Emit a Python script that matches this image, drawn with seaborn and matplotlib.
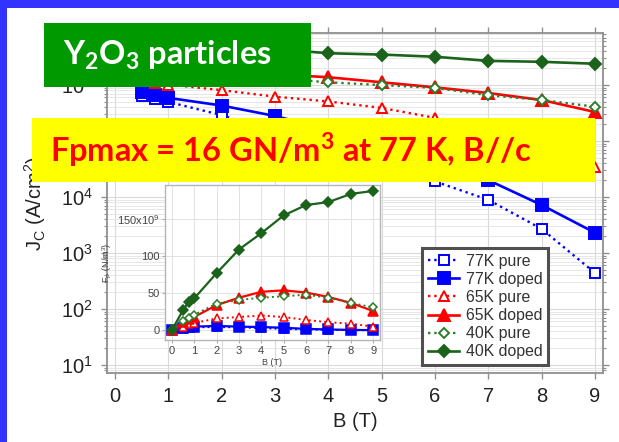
import matplotlib
matplotlib.use("Agg")
import matplotlib.pyplot as plt
from matplotlib.patches import Rectangle
from matplotlib.ticker import FixedLocator, FixedFormatter, NullFormatter, NullLocator, LogLocator
import seaborn as sns

# ---- critical current density Jc(B), A/cm^2 ----
b_field = [0.5, 0.75, 1, 2, 3, 4, 5, 6, 7, 8, 9]
jc_77k_pure = [6.3e5, 5.6e5, 5.0e5, 2.9e5, 1.4e5, 7.1e4, 3.5e4, 1.9e4, 8.9e3, 2.7e3, 4.4e2]
jc_77k_doped = [7.4e5, 6.6e5, 5.9e5, 4.3e5, 2.8e5, 1.6e5, 8.9e4, 4.5e4, 2.0e4, 7.2e3, 2.3e3]
jc_65k_pure = [1.2e6, 1.1e6, 1.02e6, 8.1e5, 6.2e5, 5.1e5, 3.9e5, 2.6e5, 1.4e5, 7.1e4, 3.4e4]
jc_65k_doped = [2.2e6, 2.1e6, 2.0e6, 1.74e6, 1.55e6, 1.38e6, 1.12e6, 9.1e5, 7.2e5, 5.4e5, 3.3e5]
jc_40k_pure = [2.0e6, 1.86e6, 1.78e6, 1.51e6, 1.32e6, 1.12e6, 1.0e6, 8.9e5, 6.6e5, 5.4e5, 4.1e5]
jc_40k_doped = [7.1e6, 6.6e6, 6.3e6, 5.2e6, 4.4e6, 3.7e6, 3.5e6, 3.2e6, 2.7e6, 2.6e6, 2.4e6]

# ---- pinning force Fp(B), 1e9 N/m^3 ----
b_field_fp = [0, 0.5, 0.75, 1, 2, 3, 4, 5, 6, 7, 8, 9]
fp_77k_pure = [0, 2.5, 3.5, 4, 4.5, 4, 3, 2, 1.2, 0.7, 0.3, 0.05]
fp_77k_doped = [0, 3, 4, 5, 6, 5, 4.5, 3.5, 2, 1.2, 0.6, 0.3]
fp_65k_pure = [0, 5, 8, 10, 16, 18, 20, 18, 14, 11, 9, 5]
fp_65k_doped = [0, 11, 15, 18, 34, 44, 52, 54, 51, 45, 37, 26]
fp_40k_pure = [0, 12, 17, 21, 36, 41, 44, 46, 48, 44, 37, 31]
fp_40k_doped = [0, 27, 38, 43, 77, 109, 131, 155, 169, 173, 184, 188]

series_labels = ["77K pure", "77K doped", "65K pure", "65K doped", "40K pure", "40K doped"]
x_ticks_main = [0, 1, 2, 3, 4, 5, 6, 7, 8, 9]
fp_ticks = [0, 50, 100, 150]
fp_tick_labels = ["0", "50", "100", "150x10$^9$"]

jc_series = [jc_77k_pure, jc_77k_doped, jc_65k_pure, jc_65k_doped, jc_40k_pure, jc_40k_doped]
fp_series = [fp_77k_pure, fp_77k_doped, fp_65k_pure, fp_65k_doped, fp_40k_pure, fp_40k_doped]

BLUE, RED = "#0000ff", "#ff0000"
GREEN_P, GREEN_D = "#2c7d2c", "#1b631b"
styles = {
    "77K pure":  dict(color=BLUE, ls=":", marker="s", filled=False, ms=7.0, ims=0.8),
    "77K doped": dict(color=BLUE, ls="-", marker="s", filled=True, ms=8.0, ims=0.85),
    "65K pure":  dict(color=RED, ls=":", marker="^", filled=False, ms=7.5, ims=0.75),
    "65K doped": dict(color=RED, ls="-", marker="^", filled=True, ms=8.5, ims=0.78),
    "40K pure":  dict(color=GREEN_P, ls=":", marker="D", filled=False, ms=5.5, ims=0.8),
    "40K doped": dict(color=GREEN_D, ls="-", marker="D", filled=True, ms=6.5, ims=0.78),
}

plt.rcParams["font.family"] = ["Liberation Sans", "DejaVu Sans"]
plt.rcParams["mathtext.fontset"] = "custom"
plt.rcParams["mathtext.rm"] = "Liberation Sans"
plt.rcParams["mathtext.it"] = "Liberation Sans:italic"
plt.rcParams["mathtext.bf"] = "Lato:bold"

W, H = 619, 442
fig = plt.figure(figsize=(W / 100, H / 100), dpi=100)
fig.patch.set_facecolor("#3333ff")
fig.add_artist(Rectangle((7 / W, 0), 1, (H - 8) / H, transform=fig.transFigure,
                         facecolor="white", edgecolor="none", zorder=-5))

ax = fig.add_axes([107 / W, (H - 373) / H, 496 / W, 340 / H])
ax_in = fig.add_axes([165 / W, (H - 340) / H, 215 / W, 155 / H])

SPINE = "#8f8f8f"

# main panel: Jc vs B
for lab, jc in zip(series_labels, jc_series):
    st = styles[lab]
    sns.lineplot(x=b_field, y=jc, ax=ax, color=st["color"], linestyle=st["ls"],
                 linewidth=1.9 if st["filled"] else 1.7,
                 marker=st["marker"], markersize=st["ms"],
                 markerfacecolor=st["color"] if st["filled"] else "white",
                 markeredgecolor=st["color"], markeredgewidth=1.4,
                 label=lab, zorder=3)

ax.set_yscale("log")
ax.set_xlim(-0.15, 9.15)
ax.set_ylim(7.2, 8.5e6)
ax.xaxis.set_major_locator(FixedLocator(x_ticks_main))
ax.xaxis.set_minor_locator(NullLocator())
ax.yaxis.set_major_locator(LogLocator(base=10, numticks=12))
ax.yaxis.set_minor_locator(LogLocator(base=10, subs=range(2, 10), numticks=12))
ax.yaxis.set_minor_formatter(NullFormatter())
ax.grid(True, which="major", color="#d9d9d9", lw=0.8)
ax.grid(True, which="minor", axis="y", color="#e3e3e3", lw=0.6)
ax.set_axisbelow(True)
ax.tick_params(which="both", direction="out", top=True, right=True,
               labeltop=False, labelright=False, color=SPINE, labelsize=14.5,
               labelcolor="#222222")
ax.tick_params(which="major", length=4, width=1.0, pad=6)
ax.tick_params(which="minor", length=2.5, width=0.8)
for sp in ax.spines.values():
    sp.set_color(SPINE)
    sp.set_linewidth(1.3)
ax.set_xlabel("B (T)", fontsize=14.5, color="#222222")
ax.set_ylabel("J$_\\mathrm{C}$ (A/cm$^2$)", fontsize=14.5, color="#222222")
ax.xaxis.set_label_coords(0.5, -0.115)
ax.yaxis.set_label_coords(-0.119, 0.5)

leg = ax.legend(loc="lower right", bbox_to_anchor=((548 - 107) / 496, (373 - 365) / 340),
                fontsize=11.4, frameon=True, fancybox=False, framealpha=1,
                edgecolor="#505050", borderpad=0.35, labelspacing=0.2,
                handlelength=2.0, handletextpad=0.4, borderaxespad=0, numpoints=1)
leg.get_frame().set_linewidth(2.2)
for t in leg.get_texts():
    t.set_color("#333333")

# inset: pinning force vs B
for lab, fp in zip(series_labels, fp_series):
    st = styles[lab]
    sns.lineplot(x=b_field_fp, y=fp, ax=ax_in, color=st["color"], linestyle=st["ls"],
                 linewidth=1.6 if st["filled"] else 1.4,
                 marker=st["marker"], markersize=st["ms"] * st["ims"],
                 markerfacecolor=st["color"] if st["filled"] else "white",
                 markeredgecolor=st["color"], markeredgewidth=1.1,
                 label="_nolegend_", zorder=3)

ax_in.set_xlim(-0.3, 9.3)
ax_in.set_ylim(-13, 196)
ax_in.xaxis.set_major_locator(FixedLocator(x_ticks_main))
ax_in.yaxis.set_major_locator(FixedLocator(fp_ticks))
ax_in.yaxis.set_major_formatter(FixedFormatter(fp_tick_labels))
ax_in.grid(True, color="#e2e2e2", lw=0.7)
ax_in.set_axisbelow(True)
ax_in.tick_params(direction="out", length=2, color="#aaaaaa", labelsize=8,
                  labelcolor="#444444", pad=2)
for sp in ax_in.spines.values():
    sp.set_color("#b5b5b5")
    sp.set_linewidth(1.0)
ax_in.set_xlabel("B (T)", fontsize=6.5, color="#444444", labelpad=2)
ax_in.set_ylabel("F$_\\mathrm{P}$ (N/m$^3$)", fontsize=6.5, color="#444444", labelpad=2)

# slide captions
fig.add_artist(Rectangle((44 / W, (H - 87) / H), 267 / W, 64 / H, transform=fig.transFigure,
                         facecolor="#009900", edgecolor="none", zorder=10))
fig.text(63 / W, (H - 65) / H, "Y$_\\mathbf{2}$O$_\\mathbf{3}$ particles", color="white",
         fontsize=23.5, fontweight="bold", family="Lato", ha="left", va="baseline", zorder=11)
fig.add_artist(Rectangle((32 / W, (H - 182) / H), 563 / W, 64 / H, transform=fig.transFigure,
                         facecolor="#ffff00", edgecolor="none", zorder=10))
fig.text(50 / W, (H - 162) / H, "Fpmax = 16 GN/m$^\\mathbf{3}$ at 77 K, B//c", color="#ff0000",
         fontsize=23.5, fontweight="bold", family="Lato", ha="left", va="baseline", zorder=11)

fig.savefig("out.png", dpi=100, facecolor=fig.get_facecolor())
